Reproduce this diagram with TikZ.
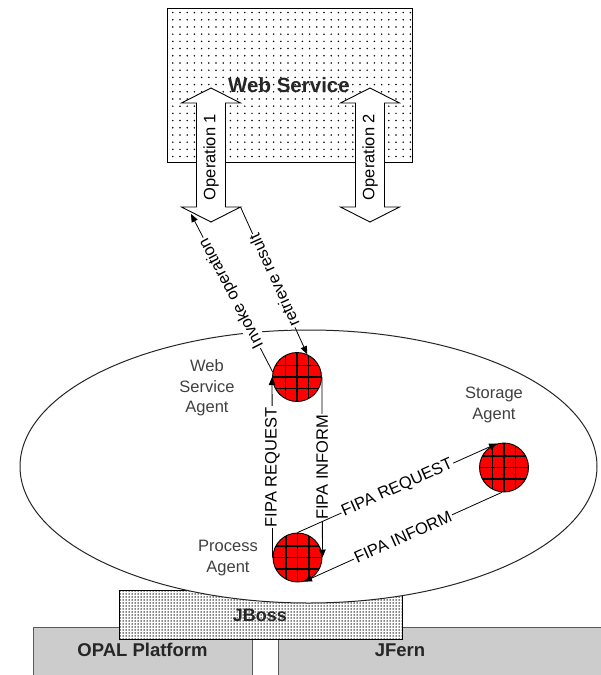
\documentclass[tikz,border=0pt]{standalone}
\usepackage{fontspec}
\setmainfont{Liberation Sans}
\usetikzlibrary{arrows.meta,patterns.meta,shapes.geometric}
\tikzset{
  oparrow/.pic={
    \path[draw=black, line width=0.9pt, fill=white, line join=miter]
      (0,-67) -- (29.5,-52) -- (14.5,-52) -- (14.5,52) -- (29.5,52) -- (0,67)
      -- (-29.5,52) -- (-14.5,52) -- (-14.5,-52) -- (-29.5,-52) -- cycle;
    \coordinate (-br) at (29.5,52);
    \coordinate (-in) at (-20,59);
    \node[font=\fontsize{16.5}{19}\selectfont, rotate=90, inner sep=0pt] (-txt) at (0,2) {#1};
  }
}
\begin{document}
\begin{tikzpicture}[x=1pt,y=-1pt,
  conn/.style={draw=black, line width=0.8pt, -{Triangle[length=8pt,width=6.5pt]}},
  lbl/.style={fill=white, inner sep=1.2pt, font=\fontsize{16.5}{19}\selectfont},
  agent/.style={circle, draw=black, line width=0.9pt, fill=red, minimum size=49pt, inner sep=0pt,
    path picture={
      \foreach \d in {-11.5,0,11.5}{
        \draw[line width=1.2pt] ([xshift=\d pt]path picture bounding box.north) -- ([xshift=\d pt]path picture bounding box.south);
        \draw[line width=1.2pt] ([yshift=\d pt]path picture bounding box.west) -- ([yshift=\d pt]path picture bounding box.east);
      }}},
  agentlbl/.style={align=center, font=\fontsize{16.5}{20.5}\selectfont, text=black!75},
  boldlbl/.style={font=\bfseries\fontsize{18.5}{21}\selectfont, text=black!85, inner sep=0pt},
  basebox/.style={draw=black!65, line width=0.9pt, fill=black!20},
]
\useasboundingbox (0,0) rectangle (601,675);
\fill[white] (0,0) rectangle (601,675);
\clip (0,0) rectangle (601,675);

% platform boxes
\draw[basebox] (33,627) rectangle (252,690);
\draw[basebox] (278,627) rectangle (610,690);
\node[boldlbl] (opal) at (142.5,650) {OPAL Platform};
\node[boldlbl] (jfern) at (400,650) {JFern};

% JBoss
\node[draw=black, line width=0.9pt, preaction={fill=white},
      pattern={Dots[distance=3pt, radius=0.75pt]},
      minimum width=283pt, minimum height=49pt, inner sep=0pt] (jboss) at (260.5,614.5) {};
\node[boldlbl, font=\bfseries\fontsize{18}{21}\selectfont] (jbosstxt) at (260,615) {JBoss};

% container ellipse
\node[draw=black!85, line width=1pt, ellipse, fill=white, minimum width=577pt, minimum height=273pt, inner sep=0pt] (platform) at (308.5,466.5) {};

% web service box
\node[draw=black, line width=0.9pt, preaction={fill=white},
      pattern={Dots[distance=7.2pt, radius=0.85pt]},
      minimum width=245pt, minimum height=154pt, inner sep=0pt] (ws) at (289.5,85) {};
\pic (op1) at (211,155) {oparrow={Operation 1}};
\pic (op2) at (370,155) {oparrow={Operation 2}};
\node[font=\bfseries\fontsize{20.5}{24}\selectfont, text=black!85, inner sep=0pt] (wstitle) at (289,85) {Web Service};

% agents
\node[agent] (wsa) at (297,377) {};
\node[agent] (pa) at (297.5,557.5) {};
\node[agent] (sa) at (504,467.5) {};
\node[agentlbl] (wsalbl) at (207,388) {Web\\Service\\Agent};
\node[agentlbl] (palbl) at (228,558) {Process\\Agent};
\node[agentlbl] (salbl) at (494,405) {Storage\\Agent};

% connectors
\draw[conn] (wsa.168) -- node[lbl, rotate=117.5] {Invoke operation} (op1-in);
\draw[conn] (op1-br) -- node[lbl, rotate=114.3] {retrieve result} (wsa.66);
\draw[conn] (pa.west) -- node[lbl, rotate=90] {FIPA REQUEST} (wsa.west);
\draw[conn] (wsa.east) -- node[lbl, rotate=90] {FIPA INFORM} (pa.east);
\draw[conn] (pa.north) -- node[lbl, sloped] {FIPA REQUEST} (sa.106);
\draw[conn] (sa.265) -- node[lbl, sloped] {FIPA INFORM} (pa.285);
\end{tikzpicture}
\end{document}
